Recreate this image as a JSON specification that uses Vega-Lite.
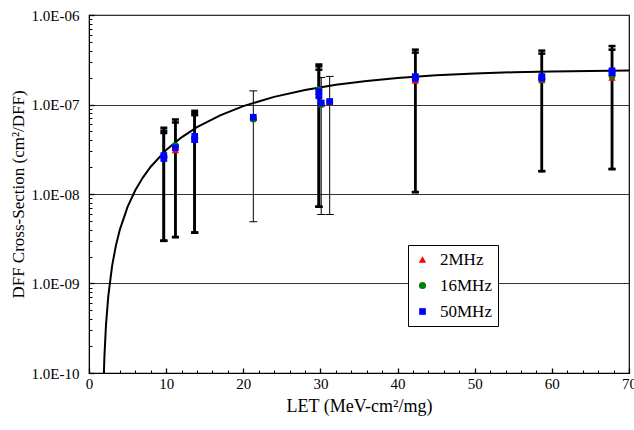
{
  "$schema": "https://vega.github.io/schema/vega-lite/v6.json",
  "width": 540,
  "height": 358,
  "autosize": {"type": "none"},
  "padding": {"left": 89, "top": 15, "right": 5, "bottom": 57},
  "background": "white",
  "config": {
    "view": {"stroke": "black", "strokeWidth": 1.2},
    "axis": {
      "labelFont": "Liberation Serif",
      "titleFont": "Liberation Serif",
      "labelColor": "black",
      "titleColor": "black",
      "domainColor": "black",
      "tickColor": "black",
      "titleFontWeight": "normal"
    }
  },
  "datasets": {
    "curve": [
      {"let": 1.8, "sigma": 3.05e-11},
      {"let": 1.9, "sigma": 8.28e-11},
      {"let": 2.0, "sigma": 1.54e-10},
      {"let": 2.2, "sigma": 3.42e-10},
      {"let": 2.5, "sigma": 7.24e-10},
      {"let": 3.0, "sigma": 1.585e-9},
      {"let": 3.5, "sigma": 2.686e-9},
      {"let": 4, "sigma": 4.0e-9},
      {"let": 5, "sigma": 7.18e-9},
      {"let": 6, "sigma": 1.099e-8},
      {"let": 7, "sigma": 1.536e-8},
      {"let": 8, "sigma": 2.018e-8},
      {"let": 10, "sigma": 3.10e-8},
      {"let": 12, "sigma": 4.30e-8},
      {"let": 14, "sigma": 5.58e-8},
      {"let": 17, "sigma": 7.57e-8},
      {"let": 20, "sigma": 9.59e-8},
      {"let": 24, "sigma": 1.217e-7},
      {"let": 28, "sigma": 1.453e-7},
      {"let": 32, "sigma": 1.660e-7},
      {"let": 36, "sigma": 1.835e-7},
      {"let": 40, "sigma": 1.980e-7},
      {"let": 45, "sigma": 2.120e-7},
      {"let": 50, "sigma": 2.221e-7},
      {"let": 55, "sigma": 2.292e-7},
      {"let": 60, "sigma": 2.340e-7},
      {"let": 65, "sigma": 2.371e-7},
      {"let": 70, "sigma": 2.391e-7}
    ],
    "points": [
      {"let": 9.7, "sigma": 2.75e-8, "series": "2MHz"},
      {"let": 11.2, "sigma": 3.1e-8, "series": "2MHz"},
      {"let": 13.7, "sigma": 4.1e-8, "series": "2MHz"},
      {"let": 21.3, "sigma": 7.1e-8, "series": "2MHz"},
      {"let": 29.8, "sigma": 1.3e-7, "series": "2MHz"},
      {"let": 30.1, "sigma": 1.02e-7, "series": "2MHz"},
      {"let": 31.2, "sigma": 1.06e-7, "series": "2MHz"},
      {"let": 42.3, "sigma": 1.85e-7, "series": "2MHz"},
      {"let": 58.7, "sigma": 1.88e-7, "series": "2MHz"},
      {"let": 67.8, "sigma": 2.0e-7, "series": "2MHz"},
      {"let": 9.7, "sigma": 2.6e-8, "series": "16MHz"},
      {"let": 11.2, "sigma": 3.45e-8, "series": "16MHz"},
      {"let": 13.7, "sigma": 4.2e-8, "series": "16MHz"},
      {"let": 21.3, "sigma": 6.9e-8, "series": "16MHz"},
      {"let": 29.8, "sigma": 1.45e-7, "series": "16MHz"},
      {"let": 30.1, "sigma": 1.0e-7, "series": "16MHz"},
      {"let": 31.2, "sigma": 1.07e-7, "series": "16MHz"},
      {"let": 42.3, "sigma": 1.95e-7, "series": "16MHz"},
      {"let": 58.7, "sigma": 1.92e-7, "series": "16MHz"},
      {"let": 67.8, "sigma": 2.1e-7, "series": "16MHz"},
      {"let": 9.7, "sigma": 2.69e-8, "series": "50MHz"},
      {"let": 9.7, "sigma": 2.49e-8, "series": "50MHz"},
      {"let": 11.2, "sigma": 3.29e-8, "series": "50MHz"},
      {"let": 13.7, "sigma": 4.41e-8, "series": "50MHz"},
      {"let": 13.7, "sigma": 4.05e-8, "series": "50MHz"},
      {"let": 21.3, "sigma": 7.2e-8, "series": "50MHz"},
      {"let": 29.8, "sigma": 1.39e-7, "series": "50MHz"},
      {"let": 29.8, "sigma": 1.25e-7, "series": "50MHz"},
      {"let": 30.1, "sigma": 1.04e-7, "series": "50MHz"},
      {"let": 31.2, "sigma": 1.08e-7, "series": "50MHz"},
      {"let": 42.3, "sigma": 2.05e-7, "series": "50MHz"},
      {"let": 42.3, "sigma": 1.95e-7, "series": "50MHz"},
      {"let": 58.7, "sigma": 2.05e-7, "series": "50MHz"},
      {"let": 58.7, "sigma": 1.97e-7, "series": "50MHz"},
      {"let": 67.8, "sigma": 2.38e-7, "series": "50MHz"},
      {"let": 67.8, "sigma": 2.27e-7, "series": "50MHz"}
    ],
    "err": [
      {"let": 9.7, "lo": 3.0e-9, "hi": 5.5e-8, "w": "thick"},
      {"let": 9.7, "lo": 3.0e-9, "hi": 5.1e-8, "w": "thick"},
      {"let": 9.7, "lo": 3.0e-9, "hi": 4.8e-8, "w": "thick"},
      {"let": 11.2, "lo": 3.3e-9, "hi": 6.8e-8, "w": "thick"},
      {"let": 11.2, "lo": 3.3e-9, "hi": 6.3e-8, "w": "thick"},
      {"let": 13.7, "lo": 3.7e-9, "hi": 8.5e-8, "w": "thick"},
      {"let": 13.7, "lo": 3.7e-9, "hi": 8.0e-8, "w": "thick"},
      {"let": 13.7, "lo": 3.7e-9, "hi": 7.6e-8, "w": "thick"},
      {"let": 21.3, "lo": 4.9e-9, "hi": 1.42e-7, "w": "thin"},
      {"let": 29.8, "lo": 7.2e-9, "hi": 2.8e-7, "w": "thick"},
      {"let": 29.8, "lo": 7.2e-9, "hi": 2.67e-7, "w": "thick"},
      {"let": 29.8, "lo": 7.2e-9, "hi": 2.45e-7, "w": "thick"},
      {"let": 30.1, "lo": 5.9e-9, "hi": 2.0e-7, "w": "thin"},
      {"let": 31.2, "lo": 5.9e-9, "hi": 2.06e-7, "w": "thin"},
      {"let": 42.3, "lo": 1.05e-8, "hi": 4.1e-7, "w": "thick"},
      {"let": 42.3, "lo": 1.05e-8, "hi": 3.8e-7, "w": "thick"},
      {"let": 58.7, "lo": 1.8e-8, "hi": 4.0e-7, "w": "thick"},
      {"let": 58.7, "lo": 1.8e-8, "hi": 3.7e-7, "w": "thick"},
      {"let": 67.8, "lo": 1.9e-8, "hi": 4.5e-7, "w": "thick"},
      {"let": 67.8, "lo": 1.9e-8, "hi": 4.1e-7, "w": "thick"}
    ]
  },
  "layer": [
    {
      "layer": [
        {
          "data": {"name": "curve"},
          "mark": {"type": "line", "color": "black", "strokeWidth": 2, "clip": true},
          "encoding": {
            "x": {
              "field": "let", "type": "quantitative",
              "scale": {"domain": [0, 70], "nice": false, "zero": false},
              "axis": {
                "values": [0, 10, 20, 30, 40, 50, 60, 70],
                "format": "d",
                "labelFontSize": 15,
                "labelFlush": false,
                "labelOverlap": false,
                "tickSize": -5,
                "tickWidth": 1.3,
                "labelPadding": 8,
                "grid": false,
                "title": "LET (MeV-cm²/mg)",
                "titleFontSize": 18,
                "titlePadding": 6
              }
            },
            "y": {
              "field": "sigma", "type": "quantitative",
              "scale": {"type": "log", "domain": [1e-10, 1e-6], "nice": false},
              "axis": {
                "values": [1e-10, 1e-9, 1e-8, 1e-7, 1e-6],
                "labelExpr": "'1.0E-' + (datum.value > 5e-10 ? '0' : '') + round(-log(datum.value)/LN10)",
                "labelFontSize": 15,
                "tickSize": -5,
                "tickWidth": 1.3,
                "labelPadding": 15,
                "grid": true,
                "gridColor": "#333333",
                "gridWidth": 1,
                "title": "DFF Cross-Section (cm²/DFF)",
                "titleFontSize": 17,
                "titlePadding": 4
              }
            }
          }
        },
        {
          "data": {"name": "err"},
          "mark": {"type": "rule", "color": "black"},
          "encoding": {
            "x": {"field": "let", "type": "quantitative"},
            "y": {"field": "lo", "type": "quantitative"},
            "y2": {"field": "hi"},
            "strokeWidth": {"field": "w", "type": "nominal", "scale": {"domain": ["thick", "thin"], "range": [2.5, 1]}, "legend": null}
          }
        },
        {
          "data": {"name": "err"},
          "transform": [
            {"filter": "datum.w == 'thick'"},
            {"fold": ["lo", "hi"], "as": ["end", "val"]}
          ],
          "mark": {"type": "tick", "orient": "horizontal", "color": "black", "size": 7, "thickness": 2.5, "opacity": 1},
          "encoding": {
            "x": {"field": "let", "type": "quantitative"},
            "y": {"field": "val", "type": "quantitative"}
          }
        },
        {
          "data": {"name": "err"},
          "transform": [
            {"filter": "datum.w == 'thin'"},
            {"fold": ["lo", "hi"], "as": ["end", "val"]}
          ],
          "mark": {"type": "tick", "orient": "horizontal", "color": "black", "size": 8, "thickness": 1, "opacity": 1},
          "encoding": {
            "x": {"field": "let", "type": "quantitative"},
            "y": {"field": "val", "type": "quantitative"}
          }
        },
        {
          "data": {"name": "points"},
          "mark": {"type": "point", "filled": true, "opacity": 1, "strokeWidth": 0},
          "encoding": {
            "x": {"field": "let", "type": "quantitative"},
            "y": {"field": "sigma", "type": "quantitative"},
            "color": {
              "field": "series", "type": "nominal",
              "scale": {"domain": ["2MHz", "16MHz", "50MHz"], "range": ["#ff0000", "#008000", "#0000ff"]},
              "legend": {
                "orient": "none", "legendX": 319, "legendY": 230, "title": null,
                "strokeColor": "black", "fillColor": "white", "padding": 6, "rowPadding": 8,
                "labelFont": "Liberation Serif", "labelFontSize": 17, "labelColor": "black",
                "symbolSize": 45, "labelOffset": 9, "cornerRadius": 0
              }
            },
            "shape": {
              "field": "series", "type": "nominal",
              "scale": {"domain": ["2MHz", "16MHz", "50MHz"], "range": ["triangle-up", "circle", "square"]},
              "legend": {
                "orient": "none", "legendX": 319, "legendY": 230, "title": null,
                "strokeColor": "black", "fillColor": "white", "padding": 6, "rowPadding": 8,
                "labelFont": "Liberation Serif", "labelFontSize": 17, "labelColor": "black",
                "symbolSize": 45, "labelOffset": 9, "cornerRadius": 0
              }
            },
            "size": {
              "field": "series", "type": "nominal",
              "scale": {"domain": ["2MHz", "16MHz", "50MHz"], "range": [55, 45, 72]},
              "legend": null
            }
          }
        }
      ]
    },
    {
      "data": {"name": "points"},
      "mark": {"type": "point", "opacity": 0},
      "encoding": {
        "x": {
          "field": "let", "type": "quantitative",
          "scale": {"domain": [0, 70], "nice": false, "zero": false},
          "axis": {
            "orient": "bottom",
            "values": [2, 4, 6, 8, 12, 14, 16, 18, 22, 24, 26, 28, 32, 34, 36, 38, 42, 44, 46, 48, 52, 54, 56, 58, 62, 64, 66, 68],
            "labels": false, "domain": false, "grid": false, "title": null,
            "tickSize": -3, "tickWidth": 1
          }
        },
        "y": {
          "field": "sigma", "type": "quantitative",
          "scale": {"type": "log", "domain": [1e-10, 1e-6], "nice": false},
          "axis": {
            "orient": "left",
            "values": [2e-10, 3e-10, 4e-10, 5e-10, 6e-10, 7e-10, 8e-10, 9e-10, 2e-9, 3e-9, 4e-9, 5e-9, 6e-9, 7e-9, 8e-9, 9e-9, 2e-8, 3e-8, 4e-8, 5e-8, 6e-8, 7e-8, 8e-8, 9e-8, 2e-7, 3e-7, 4e-7, 5e-7, 6e-7, 7e-7, 8e-7, 9e-7],
            "labels": false, "domain": false, "grid": false, "title": null,
            "tickSize": -3, "tickWidth": 1
          }
        }
      }
    }
  ],
  "resolve": {"axis": {"x": "independent", "y": "independent"}}
}
